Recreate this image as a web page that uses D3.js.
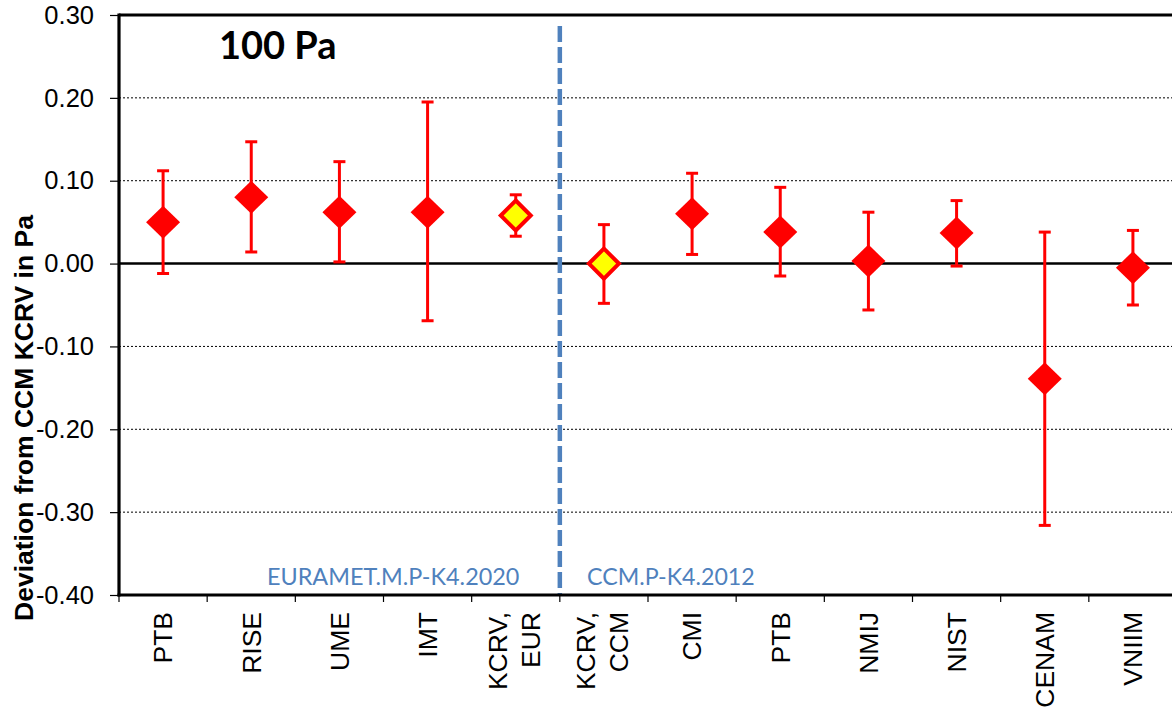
<!DOCTYPE html>
<html>
<head>
<meta charset="utf-8">
<script src="https://cdn.jsdelivr.net/npm/d3@7"></script>
<style>
  html, body { margin: 0; padding: 0; background: #fff; }
  svg { display: block; }
</style>
</head>
<body>
<svg id="chart" width="1172" height="709"></svg>
<script>
// ---- data ----
const categories = ["PTB", "RISE", "UME", "IMT", "KCRV,|EUR", "KCRV,|CCM", "CMI", "PTB ", "NMIJ", "NIST", "CENAM", "VNIIM"];
const values   = [0.050, 0.080, 0.062, 0.062, 0.058, 0.000, 0.060, 0.038, 0.003, 0.037, -0.139, -0.005];
const upper    = [0.112, 0.147, 0.123, 0.195, 0.083, 0.047, 0.109, 0.092, 0.062, 0.076, 0.038, 0.040];
const lower    = [-0.012, 0.014, 0.002, -0.069, 0.033, -0.048, 0.011, -0.015, -0.056, -0.003, -0.316, -0.050];
const isKcrv   = [false, false, false, false, true, true, false, false, false, false, false, false];
const yTickValues = [-0.40, -0.30, -0.20, -0.10, 0.00, 0.10, 0.20, 0.30];
const yTickLabels = ["-0.40", "-0.30", "-0.20", "-0.10", "0.00", "0.10", "0.20", "0.30"];
const gridValues  = [-0.30, -0.20, -0.10, 0.10, 0.20];
const titleText = "100 Pa";
const yAxisTitle = "Deviation from CCM KCRV in Pa";
const groupLabels = ["EURAMET.M.P-K4.2020", "CCM.P-K4.2012"];

// ---- layout ----
const pL = 119, pR = 1177, pT = 15, pB = 595;
const svg = d3.select("#chart");
const x = d3.scaleBand().domain(categories).range([pL, pR]).padding(0);
const y = d3.scaleLinear().domain([-0.4, 0.3]).range([pB, pT]);
const red = "#ff0000", blue = "#4f81bd";

// grid lines (dotted)
svg.append("g").selectAll("line").data(gridValues).join("line")
  .attr("x1", pL).attr("x2", pR)
  .attr("y1", d => y(d)).attr("y2", d => y(d))
  .attr("stroke", "#000").attr("stroke-width", 1).attr("stroke-dasharray", "2,2");

// top border
svg.append("line").attr("x1", pL).attr("x2", pR).attr("y1", y(0.3)).attr("y2", y(0.3))
  .attr("stroke", "#000").attr("stroke-width", 2.8);

// zero line
svg.append("line").attr("x1", pL).attr("x2", pR).attr("y1", y(0)).attr("y2", y(0))
  .attr("stroke", "#000").attr("stroke-width", 2.6);

// separator dashed line
const sepX = x(categories[5]);
svg.append("line").attr("x1", sepX).attr("x2", sepX).attr("y1", 26).attr("y2", pB - 1)
  .attr("stroke", blue).attr("stroke-width", 4.5).attr("stroke-dasharray", "16,5");

// y axis
const yAxis = d3.axisLeft(y).tickValues(yTickValues)
  .tickFormat((d, i) => yTickLabels[i]).tickSize(9).tickPadding(16);
const gy = svg.append("g").attr("transform", `translate(${pL},0)`).call(yAxis);
gy.select(".domain").remove();
gy.selectAll(".tick line").attr("stroke", "#000").attr("stroke-width", 1.2);
gy.selectAll(".tick text").attr("font-family", "'Liberation Sans', Arial, sans-serif")
  .attr("font-size", 25.5).attr("fill", "#000");
svg.append("line").attr("x1", pL).attr("x2", pL).attr("y1", pT - 1.5).attr("y2", pB + 1.5)
  .attr("stroke", "#000").attr("stroke-width", 3.2);

// x axis
const xAxis = d3.axisBottom(x).tickSize(0).tickFormat("");
const gx = svg.append("g").attr("transform", `translate(0,${pB})`).call(xAxis);
gx.select(".domain").remove();
svg.append("line").attr("x1", pL - 1.5).attr("x2", pR).attr("y1", pB).attr("y2", pB)
  .attr("stroke", "#000").attr("stroke-width", 3);
const bounds = categories.map(c => x(c)).concat([x.range()[1]]);
svg.append("g").selectAll("line").data(bounds).join("line")
  .attr("x1", d => d).attr("x2", d => d).attr("y1", pB).attr("y2", pB + 7)
  .attr("stroke", "#000").attr("stroke-width", 1.2);

// x labels
const xl = svg.append("g").selectAll("g").data(categories).join("g")
  .attr("transform", d => `translate(${x(d) + x.bandwidth() / 2},612) rotate(-90)`);
xl.each(function(d) {
  const lines = d.trim().split("|");
  const g = d3.select(this);
  lines.forEach((ln, i) => {
    const off = lines.length === 1 ? 0.35 : (i === 0 ? -0.32 : 0.92);
    g.append("text").text(ln)
      .attr("text-anchor", "end").attr("dy", off + "em")
      .attr("font-family", "'Liberation Sans', Arial, sans-serif")
      .attr("font-size", 26.5).attr("fill", "#000");
  });
});

// y axis title
svg.append("text").text(yAxisTitle)
  .attr("transform", `translate(33,418) rotate(-90)`)
  .attr("text-anchor", "middle")
  .attr("font-family", "'Liberation Sans', Arial, sans-serif")
  .attr("font-weight", "bold").attr("font-size", 26.5).attr("fill", "#000");

// chart title
svg.append("text").text(titleText).attr("x", 219).attr("y", 59)
  .attr("font-family", "Lato, 'Open Sans', sans-serif").attr("font-weight", "bold")
  .attr("font-size", 38).attr("fill", "#000");

// group labels
svg.append("text").text(groupLabels[0]).attr("x", 267).attr("y", 585)
  .attr("font-family", "Lato, 'Open Sans', sans-serif").attr("font-size", 23.4).attr("fill", blue);
svg.append("text").text(groupLabels[1]).attr("x", 587).attr("y", 585)
  .attr("font-family", "Lato, 'Open Sans', sans-serif").attr("font-size", 23.2).attr("fill", blue);

// error bars
const pts = categories.map((c, i) => ({c, v: values[i], hi: upper[i], lo: lower[i], k: isKcrv[i]}));
const eb = svg.append("g").selectAll("g").data(pts).join("g");
const cx = d => x(d.c) + x.bandwidth() / 2;
eb.append("line").attr("x1", cx).attr("x2", cx).attr("y1", d => y(d.hi)).attr("y2", d => y(d.lo))
  .attr("stroke", red).attr("stroke-width", 3);
eb.append("line").attr("x1", d => cx(d) - 6).attr("x2", d => cx(d) + 6).attr("y1", d => y(d.hi)).attr("y2", d => y(d.hi))
  .attr("stroke", red).attr("stroke-width", 3);
eb.append("line").attr("x1", d => cx(d) - 6).attr("x2", d => cx(d) + 6).attr("y1", d => y(d.lo)).attr("y2", d => y(d.lo))
  .attr("stroke", red).attr("stroke-width", 3);

// markers
function diamond(px, py, w, h) {
  return `M${px},${py - h}L${px + w},${py}L${px},${py + h}L${px - w},${py}Z`;
}
svg.append("g").selectAll("path").data(pts).join("path")
  .attr("d", d => d.k ? diamond(cx(d), y(d.v), 15, 15) : diamond(cx(d), y(d.v), 17, 16.5))
  .attr("fill", d => d.k ? "#ffff00" : red)
  .attr("stroke", red).attr("stroke-width", d => d.k ? 4 : 0)
  .attr("stroke-linejoin", "miter");
</script>
</body>
</html>
